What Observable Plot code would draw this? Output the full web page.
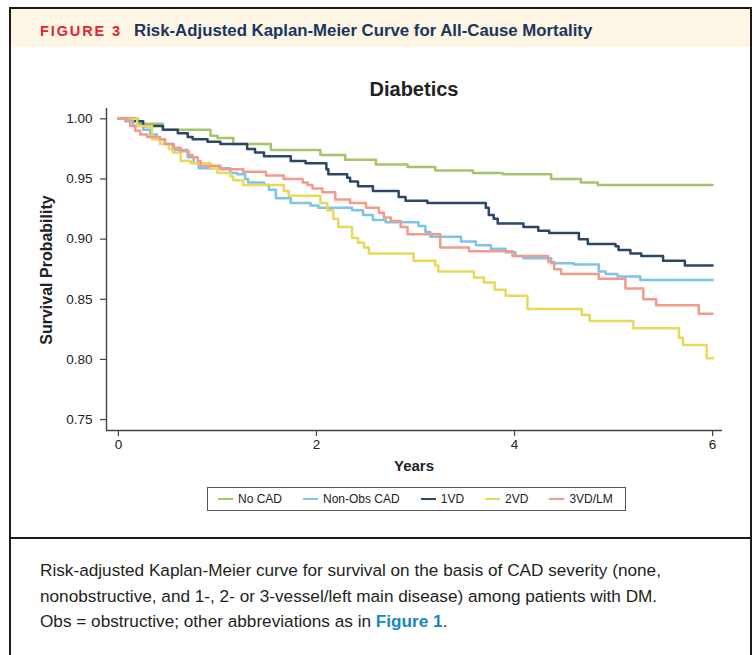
<!DOCTYPE html>
<html><head><meta charset="utf-8">
<script src="https://cdn.jsdelivr.net/npm/d3@7"></script>
<script src="https://cdn.jsdelivr.net/npm/@observablehq/plot@0.6"></script>
<style>
html,body{margin:0;padding:0;background:#fff;}
#fig{position:relative;width:756px;height:655px;overflow:hidden;font-family:"Liberation Sans",Arial,Helvetica,sans-serif;color:#222;}
.frame{position:absolute;left:9px;top:7px;width:743px;height:700px;border:2px solid #1a1a1a;box-sizing:border-box;}
.band{position:absolute;left:11px;top:9px;width:739px;height:38px;background:#FDF6E4;}
.head{position:absolute;left:40px;top:20px;white-space:nowrap;line-height:22px;}
.fig3{font-family:"Liberation Sans",Arial,sans-serif;font-weight:bold;color:#E2262F;font-size:14.5px;letter-spacing:1.9px;margin-right:12px;}
.htitle{font-family:"Liberation Sans Narrow","Liberation Sans",sans-serif;font-weight:bold;color:#1B3461;font-size:16.8px;}
.sep{position:absolute;left:9px;top:537px;width:743px;height:2px;background:#1a1a1a;}
.cap{position:absolute;left:40px;top:558px;font-size:17.2px;line-height:25.5px;color:#231F20;white-space:nowrap;}
.cap b{color:#1787C0;}
#plot{position:absolute;left:0;top:0;}
#plot svg text{font-size:13.5px;fill:#222;}
.ctitle{position:absolute;left:114px;width:600px;top:78px;text-align:center;font-weight:bold;font-size:20px;color:#222;}
.ylab{position:absolute;left:-53px;width:200px;top:261px;text-align:center;font-weight:bold;font-size:16px;transform:rotate(-90deg);color:#222;}
.xlab{position:absolute;left:314px;width:200px;top:457px;text-align:center;font-weight:bold;font-size:15px;color:#222;}
.legend{position:absolute;left:207px;top:487px;width:419px;height:24px;border:1px solid #555;box-sizing:border-box;display:flex;align-items:center;padding-left:10px;gap:21px;font-size:12px;color:#222;}
.legend .it{display:flex;align-items:center;gap:5px;}
.legend .sw{display:inline-block;width:15px;height:2px;}
</style>
</head><body>
<div id="fig">
  <div class="band"></div>
  <div class="frame"></div>
  <div class="head"><span class="fig3">FIGURE 3</span><span class="htitle">Risk-Adjusted Kaplan-Meier Curve for All-Cause Mortality</span></div>
  <div id="plot"></div>
  <div class="ctitle">Diabetics</div>
  <div class="ylab">Survival Probability</div>
  <div class="xlab">Years</div>
  <div class="legend" id="legend"></div>
  <div class="sep"></div>
  <div class="cap">Risk-adjusted Kaplan-Meier curve for survival on the basis of CAD severity (none,<br>nonobstructive, and 1-, 2- or 3-vessel/left main disease) among patients with DM.<br>Obs = obstructive; other abbreviations as in <b>Figure 1</b>.</div>
</div>
<script>
const seriesNames = ["No CAD", "Non-Obs CAD", "1VD", "2VD", "3VD/LM"];
const seriesColors = ["#A7C46B", "#7EC3E8", "#2C4766", "#E8D95B", "#F39A8A"];
const xTicks = [0, 2, 4, 6];
const yTicks = [0.75, 0.80, 0.85, 0.90, 0.95, 1.00];

const noCadTime = [0, 0.20, 0.45, 0.93, 1.00, 1.16, 1.54, 2.04, 2.29, 2.60, 2.92, 3.20, 3.58, 3.88, 4.37, 4.67, 4.84, 6.00];
const noCadSurv = [1.000, 0.996, 0.991, 0.986, 0.984, 0.979, 0.974, 0.970, 0.966, 0.962, 0.960, 0.957, 0.955, 0.954, 0.950, 0.947, 0.945, 0.945];

const nonObsTime = [0, 0.07, 0.15, 0.25, 0.32, 0.39, 0.47, 0.55, 0.70, 0.76, 0.81, 1.13, 1.20, 1.28, 1.31, 1.47, 1.52, 1.59, 1.74, 1.94, 2.02, 2.36, 2.47, 2.57, 2.70, 3.03, 3.10, 3.15, 3.46, 3.61, 3.76, 3.91, 4.01, 4.09, 4.37, 4.60, 4.85, 4.92, 5.04, 5.27, 6.00];
const nonObsSurv = [1.000, 0.998, 0.994, 0.991, 0.987, 0.983, 0.979, 0.974, 0.968, 0.963, 0.959, 0.955, 0.954, 0.950, 0.947, 0.945, 0.941, 0.934, 0.930, 0.928, 0.926, 0.924, 0.920, 0.916, 0.914, 0.911, 0.906, 0.902, 0.898, 0.895, 0.892, 0.889, 0.886, 0.884, 0.880, 0.879, 0.873, 0.871, 0.869, 0.866, 0.866];

const oneVDTime = [0, 0.17, 0.25, 0.45, 0.60, 0.70, 0.75, 0.90, 1.03, 1.30, 1.38, 1.47, 1.74, 1.89, 2.10, 2.12, 2.31, 2.34, 2.42, 2.57, 2.83, 2.90, 3.12, 3.71, 3.74, 3.79, 3.83, 4.09, 4.24, 4.35, 4.65, 4.74, 5.02, 5.05, 5.17, 5.28, 5.50, 5.72, 6.00];
const oneVDSurv = [1.000, 0.998, 0.994, 0.991, 0.988, 0.985, 0.983, 0.981, 0.979, 0.975, 0.972, 0.969, 0.965, 0.963, 0.958, 0.954, 0.951, 0.948, 0.944, 0.940, 0.935, 0.932, 0.930, 0.926, 0.920, 0.917, 0.913, 0.910, 0.907, 0.905, 0.900, 0.896, 0.894, 0.891, 0.888, 0.886, 0.882, 0.878, 0.878];

const twoVDTime = [0, 0.19, 0.34, 0.42, 0.51, 0.55, 0.63, 0.73, 0.93, 1.00, 1.13, 1.16, 1.26, 1.67, 1.72, 2.04, 2.11, 2.17, 2.22, 2.36, 2.42, 2.48, 2.53, 2.98, 3.20, 3.23, 3.59, 3.69, 3.80, 3.91, 4.13, 4.68, 4.76, 5.20, 5.66, 5.70, 5.94, 6.00];
const twoVDSurv = [1.000, 0.994, 0.983, 0.979, 0.975, 0.972, 0.965, 0.963, 0.959, 0.955, 0.952, 0.949, 0.945, 0.940, 0.936, 0.930, 0.924, 0.917, 0.910, 0.901, 0.897, 0.893, 0.888, 0.882, 0.878, 0.873, 0.868, 0.864, 0.858, 0.853, 0.842, 0.837, 0.832, 0.826, 0.818, 0.812, 0.801, 0.801];

const threeVDTime = [0, 0.07, 0.12, 0.17, 0.22, 0.29, 0.42, 0.47, 0.56, 0.63, 0.71, 0.75, 0.80, 0.83, 1.03, 1.26, 1.49, 1.67, 1.86, 1.91, 1.96, 2.06, 2.19, 2.34, 2.50, 2.63, 2.68, 2.75, 2.85, 2.92, 3.25, 3.54, 3.98, 4.34, 4.40, 4.47, 4.85, 5.12, 5.30, 5.43, 5.86, 6.00];
const threeVDSurv = [1.000, 0.999, 0.994, 0.990, 0.987, 0.985, 0.983, 0.979, 0.976, 0.973, 0.970, 0.968, 0.965, 0.961, 0.958, 0.956, 0.953, 0.950, 0.947, 0.945, 0.942, 0.939, 0.933, 0.930, 0.926, 0.922, 0.918, 0.915, 0.910, 0.904, 0.893, 0.890, 0.886, 0.881, 0.875, 0.871, 0.867, 0.859, 0.850, 0.845, 0.838, 0.838];

const seriesTimes = [noCadTime, nonObsTime, oneVDTime, twoVDTime, threeVDTime];
const seriesSurv = [noCadSurv, nonObsSurv, oneVDSurv, twoVDSurv, threeVDSurv];

const rows = [];
seriesNames.forEach((name, i) => {
  seriesTimes[i].forEach((t, j) => rows.push({series: name, t, s: seriesSurv[i][j]}));
});

const xDomain = [-0.12, 6.1];
const yDomain = [0.7409, 1.0086];

const chart = Plot.plot({
  width: 756,
  height: 530,
  marginTop: 108,
  marginBottom: 100,
  marginLeft: 106,
  marginRight: 34,
  style: {fontFamily: "'Liberation Sans', Arial, sans-serif", fontSize: "13.5px", color: "#222", background: "transparent", overflow: "visible"},
  x: {domain: xDomain, label: null},
  y: {domain: yDomain, label: null},
  color: {domain: seriesNames, range: seriesColors},
  marks: [
    Plot.axisY({ticks: yTicks, tickFormat: d3.format(".2f"), tickSize: 6, tickPadding: 8, stroke: "#444", strokeWidth: 1.2, label: null}),
    Plot.axisX({ticks: xTicks, tickFormat: d3.format("d"), tickSize: 6, tickPadding: 3, stroke: "#444", strokeWidth: 1.2, label: null}),
    Plot.ruleX([xDomain[0]], {stroke: "#444", strokeWidth: 1.4}),
    Plot.ruleY([yDomain[0]], {stroke: "#444", strokeWidth: 1.4}),
    Plot.line(rows, {x: "t", y: "s", z: "series", stroke: "series", curve: "step-after", strokeWidth: 2.5})
  ]
});
document.getElementById("plot").appendChild(chart);

const legend = document.getElementById("legend");
seriesNames.forEach((name, i) => {
  const it = document.createElement("span");
  it.className = "it";
  const sw = document.createElement("span");
  sw.className = "sw";
  sw.style.background = seriesColors[i];
  const tx = document.createElement("span");
  tx.textContent = name;
  it.appendChild(sw);
  it.appendChild(tx);
  legend.appendChild(it);
});
</script>
</body></html>
